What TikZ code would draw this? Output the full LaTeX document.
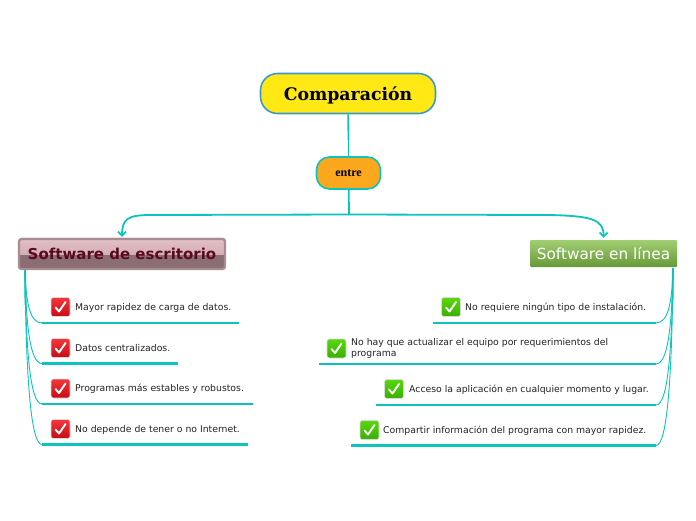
\documentclass[tikz,border=0pt]{standalone}
\usepackage{fontspec}
\setmainfont{DejaVu Sans}
\newfontfamily\titlefont{DejaVu Serif}
\newfontfamily\entrefont{Liberation Serif}
\usetikzlibrary{positioning, arrows.meta, shadows}

\definecolor{teal1}{HTML}{0CC4BC}
\definecolor{bluerim}{HTML}{3A9AD0}
\definecolor{titlefill}{HTML}{FFE813}
\definecolor{entrefill}{HTML}{FBA81F}
\definecolor{deskrim}{HTML}{A88C92}
\definecolor{desktext}{HTML}{5A0A1E}
\definecolor{itemtext}{HTML}{222222}
\definecolor{desktop}{HTML}{E2C0C8}
\definecolor{deskmiddle}{HTML}{D4AEB6}
\definecolor{desklow}{HTML}{8A6E74}
\definecolor{softtop}{HTML}{A2CE72}
\definecolor{softlow}{HTML}{669838}
\definecolor{redtop}{HTML}{F4363C}
\definecolor{redlow}{HTML}{C80C14}
\definecolor{greentop}{HTML}{58D80C}
\definecolor{greenlow}{HTML}{38B000}

\pgfdeclareverticalshading{deskgloss}{100bp}{color(0bp)=(desklow); color(49.5bp)=(desklow); color(50bp)=(deskmiddle); color(75bp)=(desktop); color(100bp)=(desktop)}
\pgfdeclareverticalshading{softgloss}{100bp}{color(0bp)=(softlow); color(25bp)=(softlow); color(75bp)=(softtop); color(100bp)=(softtop)}
\pgfdeclareverticalshading{redtick}{100bp}{color(0bp)=(redlow); color(25bp)=(redlow); color(75bp)=(redtop); color(100bp)=(redtop)}
\pgfdeclareverticalshading{greentick}{100bp}{color(0bp)=(greenlow); color(25bp)=(greenlow); color(75bp)=(greentop); color(100bp)=(greentop)}

\tikzset{
    item/.style={anchor=west, inner sep=0pt, font=\fontsize{9.3}{10.8}\selectfont, text=itemtext, align=left},
    tickbox/.style={minimum size=19, inner sep=0pt, rounded corners=2.5, draw=white!85!black, line width=0.6},
    redbox/.style={tickbox, shading=redtick},
    greenbox/.style={tickbox, shading=greentick},
    tickline/.style={white, line width=1.9, line cap=round, line join=round},
    branch/.style={teal1, line width=0.9},
    trunk/.style={teal1, line width=1.8},
    underline/.style={teal1, line width=2.4}
}

\newcommand{\tickin}[1]{\draw[tickline] ([shift={(-5,0.5)}]#1.center) -- ([shift={(-1.5,4.5)}]#1.center) -- ([shift={(5,-5)}]#1.center);}

\begin{document}
\begin{tikzpicture}[x=1pt, y=-1pt]
        \useasboundingbox (0,0) rectangle (696,520);

        % Blocks
        \node[draw=bluerim, line width=1.6, fill=titlefill, rounded corners=17, minimum width=175, minimum height=40, inner sep=0pt, text height=17, text depth=3.5, font=\titlefont\bfseries\fontsize{17.3}{20}\selectfont] (title) at (348,93.5) {Comparación};
        \node[draw=teal1, line width=1.6, fill=entrefill, rounded corners=13, minimum width=64, minimum height=32, inner sep=0pt, font=\entrefont\bfseries\fontsize{12}{14}\selectfont] (entre) at (348.5,173) {entre};
        \node[draw=deskrim, line width=2.2, shading=deskgloss, rounded corners=2.5, minimum width=206, minimum height=30, inner sep=0pt, drop shadow={shadow xshift=0.8, shadow yshift=-1.4, opacity=0.35}, text=desktext, font=\bfseries\fontsize{15}{17}\selectfont] (desk) at (122,254) {Software de escritorio};
        \node[shading=softgloss, rounded corners=1, minimum width=147, minimum height=27, inner sep=0pt, text=white, font=\fontsize{15.3}{17}\selectfont] (soft) at (603.5,253.5) {Software en línea};

        % Left items
        \node[redbox] (deskbox1) at (60.5,307) {};
        \node[item] (desk1) at (75,307.5) {Mayor rapidez de carga de datos.};
        \node[redbox] (deskbox2) at (60.5,348) {};
        \node[item] (desk2) at (75,348.5) {Datos centralizados.};
        \node[redbox] (deskbox3) at (60.5,388.5) {};
        \node[item] (desk3) at (75,389) {Programas más estables y robustos.};
        \node[redbox] (deskbox4) at (60.5,429) {};
        \node[item] (desk4) at (75,429.5) {No depende de tener o no Internet.};
        \tickin{deskbox1}
        \tickin{deskbox2}
        \tickin{deskbox3}
        \tickin{deskbox4}

        % Right items
        \node[greenbox] (softbox1) at (451,307) {};
        \node[item] (soft1) at (465,307.5) {No requiere ningún tipo de instalación.};
        \node[greenbox] (softbox2) at (336.5,348.5) {};
        \node[item] (soft2) at (351,348.5) {No hay que actualizar el equipo por requerimientos del\\programa};
        \node[greenbox] (softbox3) at (394,389) {};
        \node[item] (soft3) at (409,389.5) {Acceso la aplicación en cualquier momento y lugar.};
        \node[greenbox] (softbox4) at (369.5,430) {};
        \node[item] (soft4) at (383,430.5) {Compartir información del programa con mayor rapidez.};
        \tickin{softbox1}
        \tickin{softbox2}
        \tickin{softbox3}
        \tickin{softbox4}

        % Joints
        \coordinate (fork) at (349,214.5);
        \coordinate (titlemid) at (348.5,140);
        \coordinate (deskturn) at (150,215);
        \coordinate (softturn) at (550,215);
        \coordinate (deskroot) at (25,270);
        \coordinate (deskmid) at (25.5,305);
        \coordinate (softroot) at (673,268);
        \coordinate (softmid) at (672.5,305);

        \coordinate (deskline1) at (42,323);
        \coordinate (deskend1) at (239,323);
        \coordinate (deskline2) at (42,363.5);
        \coordinate (deskend2) at (178,363.5);
        \coordinate (deskline3) at (42,404);
        \coordinate (deskend3) at (253,404);
        \coordinate (deskline4) at (42,444.5);
        \coordinate (deskend4) at (248,444.5);

        \coordinate (softline1) at (656,323);
        \coordinate (softend1) at (433,323);
        \coordinate (softline2) at (656,364);
        \coordinate (softend2) at (319,364);
        \coordinate (softline3) at (656,405);
        \coordinate (softend3) at (376,405);
        \coordinate (softline4) at (656,445.5);
        \coordinate (softend4) at (351,445.5);

        % Arrows
        \draw[trunk] (title) -- (titlemid);
        \draw[branch] (titlemid) -- (entre);
        \draw[trunk] (entre) -- (fork);
        \draw[trunk] (fork) -- (deskturn);
        \draw[trunk] (fork) -- (softturn);
        \draw[trunk, -{Straight Barb[length=4,width=8]}, shorten >=1] (deskturn) .. controls (128,215) and (122,219) .. (desk.north);
        \draw[trunk, -{Straight Barb[length=4,width=8]}] (softturn) .. controls (590,216) and (604,219) .. ([yshift=2]soft.north);

        % Underlines
        \draw[underline] (deskline1) -- (deskend1);
        \draw[underline] (deskline2) -- (deskend2);
        \draw[underline] (deskline3) -- (deskend3);
        \draw[underline] (deskline4) -- (deskend4);
        \draw[underline] (softline1) -- (softend1);
        \draw[underline] (softline2) -- (softend2);
        \draw[underline] (softline3) -- (softend3);
        \draw[underline] (softline4) -- (softend4);

        % Branches
        \draw[trunk] (deskroot) -- (deskmid);
        \draw[trunk] (softroot) -- (softmid);
        \draw[branch] (deskroot) .. controls (26,300) and (29,323) .. (deskline1);
        \draw[branch] (deskroot) .. controls (26,325) and (30,363.5) .. (deskline2);
        \draw[branch] (deskroot) .. controls (26,350) and (30,404) .. (deskline3);
        \draw[branch] (deskroot) .. controls (26,380) and (31,444.5) .. (deskline4);
        \draw[branch] (softroot) .. controls (672,300) and (669,323) .. (softline1);
        \draw[branch] (softroot) .. controls (672,325) and (668,364) .. (softline2);
        \draw[branch] (softroot) .. controls (672,350) and (668,405) .. (softline3);
        \draw[branch] (softroot) .. controls (672,380) and (667,445.5) .. (softline4);
    \end{tikzpicture}
\end{document}
